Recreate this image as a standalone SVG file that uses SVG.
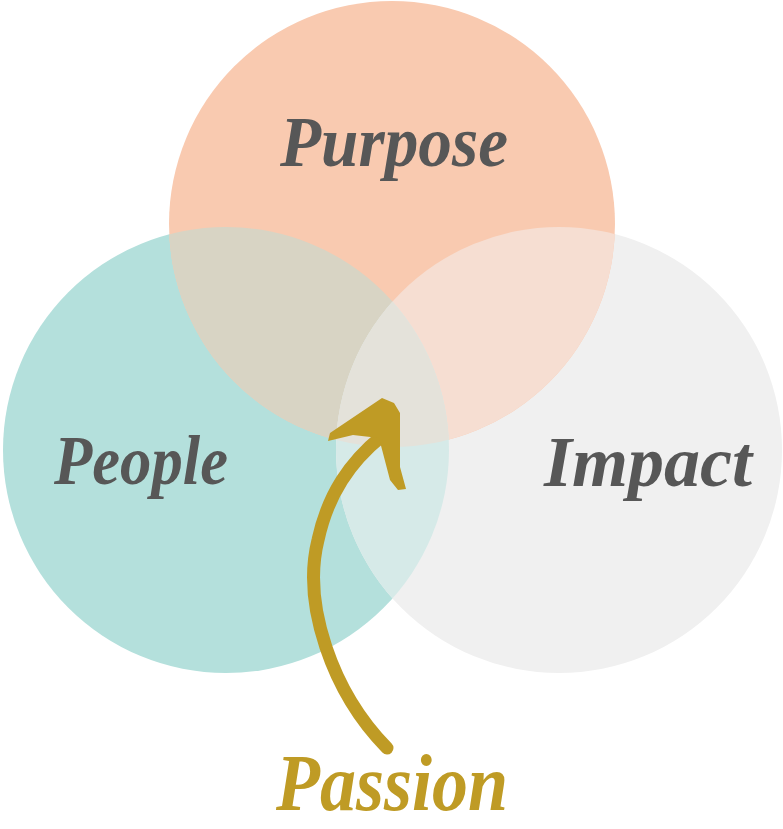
<svg xmlns="http://www.w3.org/2000/svg" width="783" height="829" viewBox="0 0 783 829">
<style>
.lbl{font-family:"Liberation Serif","DejaVu Serif",serif;font-style:italic;font-weight:bold;fill:#575757;text-anchor:middle}
.gold{fill:#BF9B25}
</style>
<defs>
<clipPath id="cP"><circle cx="392" cy="224" r="223"/></clipPath>
<clipPath id="cL"><circle cx="226" cy="450" r="223"/></clipPath>
<clipPath id="cI"><circle cx="559" cy="450" r="223"/></clipPath>
</defs>
<rect width="783" height="829" fill="#FFFFFF"/>
<g id="people"><circle cx="226" cy="450" r="223" fill="#B4E0DC"/></g>
<g id="impact"><circle cx="559" cy="450" r="223" fill="#F0F0F0"/></g>
<g id="purpose"><circle cx="392" cy="224" r="223" fill="#F9CAB0"/></g>
<g id="overlaps">
<g clip-path="url(#cP)"><circle cx="226" cy="450" r="223" fill="#D8D4C4"/><circle cx="559" cy="450" r="223" fill="#F6DED2"/></g>
<g clip-path="url(#cL)"><circle cx="559" cy="450" r="223" fill="#D6EAE8"/></g>
<g clip-path="url(#cL)"><g clip-path="url(#cP)"><circle cx="559" cy="450" r="223" fill="#E4E2DA"/></g></g>
</g>
<text class="lbl" x="394" y="166" font-size="72" textLength="228" lengthAdjust="spacingAndGlyphs">Purpose</text>
<text class="lbl" x="141" y="484" font-size="70" textLength="174" lengthAdjust="spacingAndGlyphs">People</text>
<text class="lbl" x="648" y="486" font-size="72" textLength="208" lengthAdjust="spacingAndGlyphs">Impact</text>
<g id="connectors">
<path d="M387,748 C332,692 302,604 318,540 C328,494 350,462 382,436" fill="none" stroke="#BF9B25" stroke-width="13" stroke-linecap="round"/>
<path class="gold" d="M382,398 L394,403 L400,413 L400,467 L406,489 L398,490 L390,480 L379,438 L353,435 L328,441 L330,433 Z"/>
</g>
<g id="passion"><text x="392" y="810" font-family="Liberation Serif, DejaVu Serif, serif" font-style="italic" font-weight="bold" font-size="80" fill="#BF9B25" text-anchor="middle" textLength="232" lengthAdjust="spacingAndGlyphs">Passion</text></g>
</svg>
